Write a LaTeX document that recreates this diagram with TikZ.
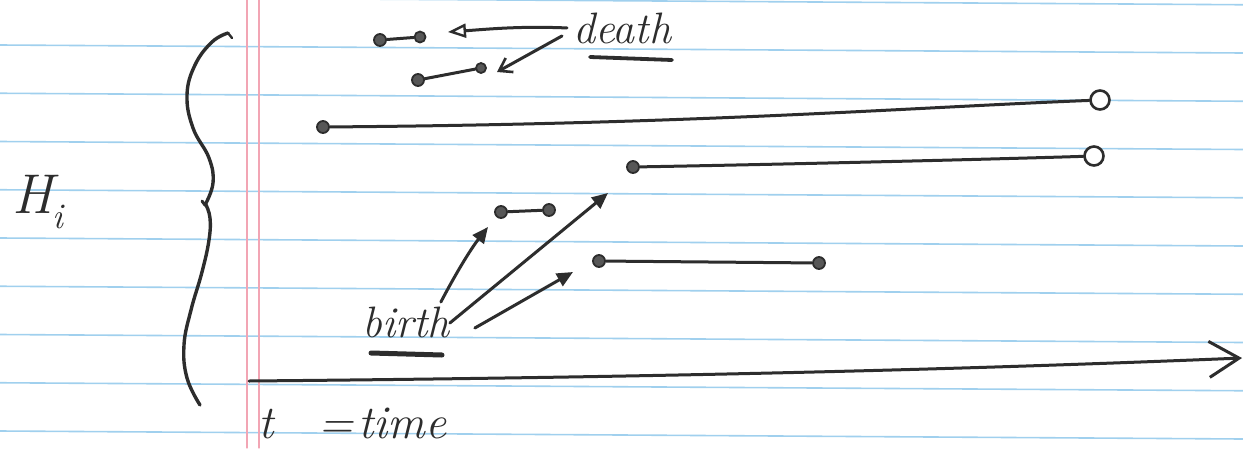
\documentclass[tikz,border=0pt]{standalone}
\usetikzlibrary{arrows.meta}
\definecolor{pen}{RGB}{45,45,45}
\definecolor{rulecol}{RGB}{160,208,238}
\definecolor{margincol}{RGB}{242,165,180}
\begin{document}
\begin{tikzpicture}[x=1pt,y=-1pt,line cap=round,line join=round]
\tikzset{
  seg/.style={draw=pen, line width=3pt},
  dotn/.style={circle, draw=pen, fill=pen!80, line width=1.8pt, inner sep=0pt, minimum size=12pt},
  ring/.style={circle, draw=pen, line width=2.6pt, inner sep=0pt, minimum size=19pt, fill=white},
  hand/.style={text=pen, font=\fontsize{44}{46}\selectfont\itshape, inner sep=0pt},
  ruled/.style={draw=rulecol, line width=1.6pt},
  marg/.style={draw=margincol, line width=1.2pt},
  deathtip/.style={-{Triangle[open, length=18pt, width=14pt, line width=2.4pt]}},
  bartip/.style={-{Straight Barb[length=12pt, width=16pt, line width=2.6pt]}},
  birthtip/.style={-{Triangle[length=16pt, width=14pt]}},
  timetip/.style={-{Straight Barb[length=30pt, width=36pt, line width=3pt]}}
}
\useasboundingbox (0,0) rectangle (1243,448);
\fill[white] (0,0) rectangle (1243,448);
% ruled paper
\foreach \k in {-1,...,8} {
  \draw[ruled] (0,{45+48.25*\k}) -- (1243,{53+48.25*\k});
}
\draw[marg] (247,0) -- (247,448);
\draw[marg] (259,0) -- (259,448);

% brace
\draw[draw=pen, line width=3.4pt] plot[smooth, tension=0.7] coordinates
  {(228,33) (212,42) (195,65) (187,95) (193,128) (209,158) (213,183) (205,205)};
\draw[draw=pen, line width=3pt] (205,205) -- (202,201);
\draw[draw=pen, line width=3.4pt] plot[smooth, tension=0.7] coordinates
  {(206,205) (210,218) (209,240) (202,272) (191,310) (184,345) (187,378) (200,405)};
\draw[draw=pen, line width=2.4pt] (228,33) -- (232,38);

% labels
\node[hand, anchor=base west] (death) at (573,43) {death};
\node[hand, anchor=base west] (birth) at (362,337) {birth};
\node[hand, font=\fontsize{47}{49}\selectfont\itshape, anchor=base west] (time) at (258,438)
  {\makebox[60pt][l]{t}\makebox[40pt][l]{=}time};
\node[text=pen, font=\fontsize{56}{60}\selectfont\itshape, inner sep=0pt, anchor=base west] (H) at (12,213)
  {H\raisebox{-0.28em}{\fontsize{36}{38}\selectfont i}};
\draw[seg, line width=3.8pt] (590,57) -- (672,60);
\draw[seg, line width=5pt] (371,353) -- (442,355);

% intervals
\node[dotn] (d1a) at (380,40) {};
\node[dotn, minimum size=11pt] (d1b) at (420,37) {};
\node[dotn] (d2a) at (418,80) {};
\node[dotn, minimum size=10pt] (d2b) at (481,68) {};
\node[dotn] (l1a) at (323,127) {};
\node[ring] (l1b) at (1100,100) {};
\node[dotn] (l2a) at (633,167) {};
\node[ring] (l2b) at (1094,156) {};
\node[dotn] (s1a) at (501,212) {};
\node[dotn] (s1b) at (549,210) {};
\node[dotn] (s2a) at (599,261) {};
\node[dotn] (s2b) at (819,263) {};

\draw[seg] (d1a) -- (d1b);
\draw[seg] (d2a) -- (d2b);
\draw[seg] (l1a) .. controls (700,124) and (900,108) .. (l1b);
\draw[seg] (l2a) .. controls (800,164) and (1000,159) .. (l2b);
\draw[seg] (s1a) -- (s1b);
\draw[seg] (s2a) -- (s2b);

% death arrows
\coordinate (dt1) at (448,32);
\coordinate (dt2) at (497,72);
\draw[seg, deathtip] ([xshift=-6pt]death.west) .. controls (520,26) and (490,29) .. (dt1);
\draw[seg, bartip] ([xshift=-11pt,yshift=-8pt]death.west) -- (dt2);

% birth arrows
\coordinate (bt1) at (488,227);
\coordinate (bt2) at (608,193);
\coordinate (bt3) at (573,272);
\draw[seg, birthtip] ([xshift=-9pt,yshift=35pt]birth.base east) .. controls (455,275) and (470,250) .. (bt1);
\draw[seg, birthtip] ([xshift=0pt,yshift=14pt]birth.base east) -- (bt2);
\draw[seg, birthtip] ([xshift=25pt,yshift=9pt]birth.base east) -- (bt3);

% time axis
\coordinate (t0) at (249,381);
\coordinate (tend) at (1242,358);
\draw[seg, timetip] (t0) .. controls (700,377) and (1000,368) .. (tend);
\end{tikzpicture}
\end{document}
